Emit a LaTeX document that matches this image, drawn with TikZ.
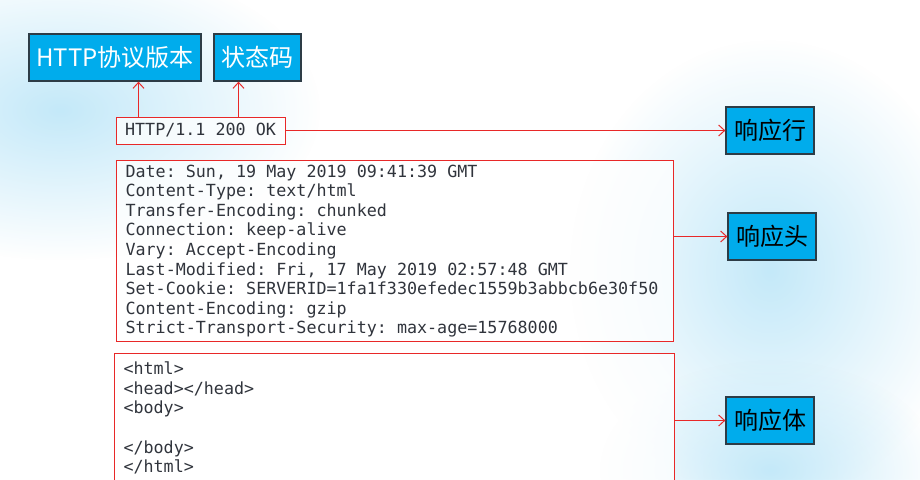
\documentclass[tikz,border=0pt]{standalone}
\usepackage{fontspec}
\setmonofont{DejaVu Sans Mono}
\newfontfamily\cjk{Noto Sans CJK SC}
\usetikzlibrary{arrows.meta}
\usetikzlibrary{fadings}
\definecolor{tagblue}{RGB}{0,172,236}
\definecolor{tagedge}{RGB}{45,60,70}
\definecolor{redline}{RGB}{232,40,40}
\definecolor{codegray}{RGB}{48,52,60}
\definecolor{glowblue}{RGB}{196,233,249}
\newcommand\codefont{\ttfamily\frenchspacing\fontsize{16.7}{19.6}\selectfont}
\tikzfading[name=softglow, inner color=transparent!0, outer color=transparent!100]
\tikzset{
  tag/.style={draw=tagedge, fill=tagblue, line width=1.3pt, minimum height=47pt,
    inner sep=0pt, font=\cjk\fontsize{24}{24}\selectfont},
  msgbox/.style={draw=redline, fill=white, fill opacity=.75, text opacity=1, line width=1pt,
    inner xsep=9pt, inner ysep=0pt, align=left, text=codegray, font=\codefont},
  pointer/.style={draw=redline, line width=1pt, -{Straight Barb[length=6pt,width=11pt]}},
  glow/.style={fill=glowblue, path fading=softglow}
}
\begin{document}
\begin{tikzpicture}[x=1pt, y=-1pt]
      \useasboundingbox (0,0) rectangle (920,479);
      \fill[white] (0,0) rectangle (920,479);
      % soft background
      \fill[glow] (60,110) ellipse [x radius=260, y radius=150];
      \fill[glow] (770,270) ellipse [x radius=200, y radius=230];
      \fill[glow] (770,470) ellipse [x radius=170, y radius=110];

      % tags
      \node[tag, text=white, minimum width=172pt] (ver) at (115,57.5) {HTTP协议版本};
      \node[tag, text=white, minimum width=87pt] (code) at (257.5,57.5) {状态码};
      \node[tag, minimum width=88pt] (row) at (770,130.5) {响应行};
      \node[tag, minimum width=88pt] (hdr) at (772,236.5) {响应头};
      \node[tag, minimum width=88pt] (bdy) at (770,420.5) {响应体};

      % message
      \node[msgbox, minimum width=169pt, minimum height=27pt, inner xsep=0pt] (line) at (200.5,130.5) {HTTP/1.1 200 OK};
      \node[msgbox, anchor=north west, minimum width=557pt, minimum height=181pt, inner xsep=0pt] (head) at (116,160) {%
        Date: Sun, 19 May 2019 09:41:39 GMT\\
        Content-Type: text/html\\
        Transfer-Encoding: chunked\\
        Connection: keep-alive\\
        Vary: Accept-Encoding\\
        Last-Modified: Fri, 17 May 2019 02:57:48 GMT\\
        Set-Cookie: SERVERID=1fa1f330efedec1559b3abbcb6e30f50\rule{6pt}{0pt}\\
        Content-Encoding: gzip\\
        Strict-Transport-Security: max-age=15768000};
      \node[msgbox, anchor=north west, minimum width=560pt, minimum height=129pt, text width=542pt] (body) at (114,353) {%
        <html>\\
        <head></head>\\
        <body>\\
        \mbox{}\\
        </body>\\
        </html>};

      \draw[pointer] ([xshift=23pt]line.north west) -- ([xshift=23pt]line.north west |- ver.south);
      \draw[pointer] ([xshift=123pt]line.north west) -- ([xshift=123pt]line.north west |- code.south);
      \draw[pointer] (line.east) -- (row.west);
      \draw[pointer] (head.east |- hdr.west) -- (hdr.west);
      \draw[pointer] (body.east |- bdy.west) -- (bdy.west);
    \end{tikzpicture}
\end{document}
